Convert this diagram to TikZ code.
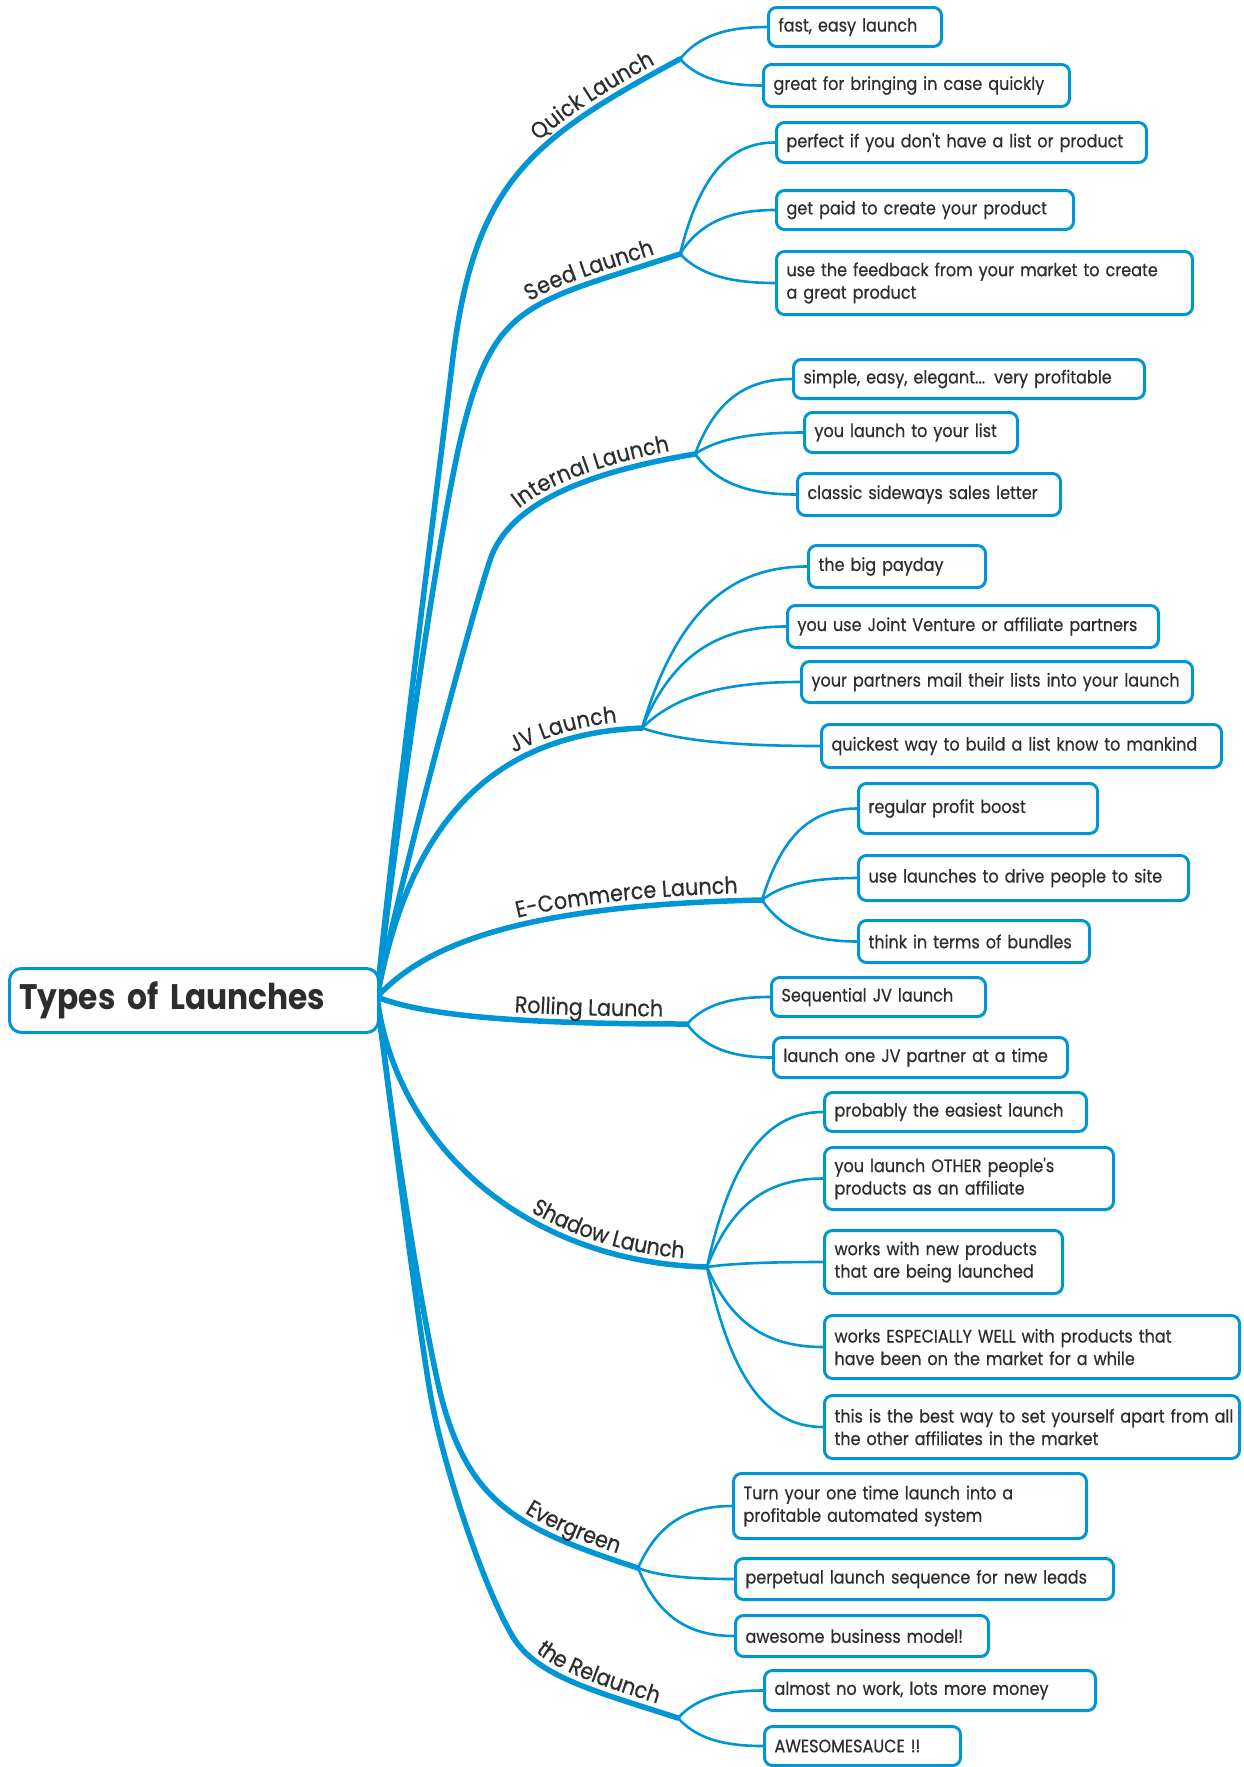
\documentclass[tikz,border=0pt]{standalone}
\usepackage{fontspec}
\setmainfont{Poppins}
\newfontfamily\leaffont{Poppins}[FakeStretch=0.89, FakeBold=0.5]
\newfontfamily\labelfont{Poppins}[FakeStretch=0.9, FakeBold=0.5]
\newfontfamily\rootfont{Poppins}[FakeStretch=0.88]
\usetikzlibrary{calc,backgrounds,decorations.text}
\definecolor{mmblue}{RGB}{0,150,214}
\definecolor{mmtext}{RGB}{45,45,45}
\begin{document}
\begin{tikzpicture}[x=1pt,y=-1pt,
  trunk/.style={draw=mmblue, line width=5.5pt, line cap=round, line join=round},
  lbl/.style={postaction={decorate, decoration={text along path,
      text={|\labelfont\fontsize{23}{27}\selectfont\color{mmtext}|#1},
      text align={align=right, right indent=24pt}, raise=7.5pt}}},
  twig/.style={draw=mmblue, line width=2.6pt, line cap=round},
  twigto/.style={to path={.. controls ($(\tikztostart)!0.6!(\tikztostart|-\tikztotarget)!0.2!(\tikztotarget)$) and ($(\tikztotarget)!0.5!(\tikztostart|-\tikztotarget)$) .. (\tikztotarget)}},
  leaf/.style={draw=mmblue, line width=3pt, rounded corners=8pt, fill=white, anchor=north west, inner xsep=10pt, inner ysep=0pt, align=left, font=\leaffont\fontsize{18}{22.5}\selectfont, text=mmtext},
  rootbox/.style={draw=mmblue, line width=3pt, rounded corners=12pt, fill=white, anchor=north west, inner xsep=10pt, inner ysep=0pt, align=left, font=\rootfont\bfseries\fontsize{35.5}{40}\selectfont, text=mmtext},
]
\useasboundingbox (0,0) rectangle (1244,1767);

% central topic
\node[rootbox, text width=349pt, minimum height=64pt] (center) at (8,967) {Types of Launches};
\coordinate (root) at (377,997);

% forks
\coordinate (fQ) at (680,59);
\coordinate (fS) at (680,254);
\coordinate (fI) at (695,454);
\coordinate (fJ) at (642,728);
\coordinate (fE) at (762,900);
\coordinate (fR) at (687,1024);
\coordinate (fSh) at (707,1267);
\coordinate (fEv) at (638,1568);
\coordinate (fRe) at (678,1718);

% leaves
\node[leaf, text width=153pt, minimum height=39pt] (c11) at (767,6) {fast, easy launch};
\node[leaf, text width=286pt, minimum height=42pt] (c12) at (762,63) {great for bringing in case quickly};
\node[leaf, text width=350pt, minimum height=40pt] (c21) at (775,121) {\mbox{perfect if you don't have a list or product}};
\node[leaf, text width=277pt, minimum height=39pt] (c22) at (775,189) {get paid to create your product};
\node[leaf, text width=396pt, minimum height=63pt] (c23) at (775,250) {\mbox{use the feedback from your market to create}\\a great product};
\node[leaf, text width=331pt, minimum height=39pt] (c31) at (792,358) {\mbox{simple, easy, elegant... very profitable}};
\node[leaf, text width=193pt, minimum height=40pt] (c32) at (803,411) {\mbox{you launch to your list}};
\node[leaf, text width=243pt, minimum height=42pt] (c33) at (796,472) {\mbox{classic sideways sales letter}};
\node[leaf, text width=157pt, minimum height=42pt] (c41) at (807,544) {the big payday};
\node[leaf, text width=351pt, minimum height=42pt] (c42) at (786,604) {\mbox{you use Joint Venture or affiliate partners}};
\node[leaf, text width=371pt, minimum height=41pt] (c43) at (800,660) {\mbox{your partners mail their lists into your launch}};
\node[leaf, text width=380pt, minimum height=43pt] (c44) at (820,723) {\mbox{quickest way to build a list know to mankind}};
\node[leaf, text width=219pt, minimum height=50pt] (c51) at (857,782) {regular profit boost};
\node[leaf, text width=310pt, minimum height=45pt] (c52) at (857,854) {\mbox{use launches to drive people to site}};
\node[leaf, text width=211pt, minimum height=42pt] (c53) at (857,919) {\mbox{think in terms of bundles}};
\node[leaf, text width=194pt, minimum height=39pt] (c61) at (770,976) {\mbox{Sequential JV launch}};
\node[leaf, text width=274pt, minimum height=40pt] (c62) at (772,1036) {\mbox{launch one JV partner at a time}};
\node[leaf, text width=242pt, minimum height=39pt] (c71) at (823,1091) {\mbox{probably the easiest launch}};
\node[leaf, text width=269pt, minimum height=62pt] (c72) at (823,1146) {\mbox{you launch OTHER people's}\\products as an affiliate};
\node[leaf, text width=218pt, minimum height=63pt] (c73) at (823,1229) {\mbox{works with new products}\\\mbox{that are being launched}};
\node[leaf, text width=395pt, minimum height=63pt] (c74) at (823,1314) {\mbox{works ESPECIALLY WELL with products that}\\\mbox{have been on the market for a while}};
\node[leaf, text width=395pt, minimum height=63pt] (c75) at (823,1394) {\mbox{this is the best way to set yourself apart from all}\\\mbox{the other affiliates in the market}};
\node[leaf, text width=333pt, minimum height=65pt] (c81) at (732,1472) {\mbox{Turn your one time launch into a}\\profitable automated system};
\node[leaf, text width=358pt, minimum height=41pt] (c82) at (734,1557) {\mbox{perpetual launch sequence for new leads}};
\node[leaf, text width=233pt, minimum height=41pt] (c83) at (734,1614) {\mbox{awesome business model!}};
\node[leaf, text width=311pt, minimum height=40pt] (c91) at (763,1669) {\mbox{almost no work, lots more money}};
\node[leaf, text width=176pt, minimum height=39pt] (c92) at (763,1725) {AWESOMESAUCE !!};

\begin{scope}[on background layer]
% twigs
\draw[twig] (fQ) to[twigto] (c11.west);
\draw[twig] (fQ) to[twigto] (c12.west);
\draw[twig] (fS) to[twigto] (c21.west);
\draw[twig] (fS) to[twigto] (c22.west);
\draw[twig] (fS) to[twigto] (c23.west);
\draw[twig] (fI) to[twigto] (c31.west);
\draw[twig] (fI) to[twigto] (c32.west);
\draw[twig] (fI) to[twigto] (c33.west);
\draw[twig] (fJ) to[twigto] (c41.west);
\draw[twig] (fJ) to[twigto] (c42.west);
\draw[twig] (fJ) to[twigto] (c43.west);
\draw[twig] (fJ) to[twigto] (c44.west);
\draw[twig] (fE) to[twigto] (c51.west);
\draw[twig] (fE) to[twigto] (c52.west);
\draw[twig] (fE) to[twigto] (c53.west);
\draw[twig] (fR) to[twigto] (c61.west);
\draw[twig] (fR) to[twigto] (c62.west);
\draw[twig] (fSh) to[twigto] (c71.west);
\draw[twig] (fSh) to[twigto] (c72.west);
\draw[twig] (fSh) to[twigto] (c73.west);
\draw[twig] (fSh) to[twigto] (c74.west);
\draw[twig] (fSh) to[twigto] (c75.west);
\draw[twig] (fEv) to[twigto] (c81.west);
\draw[twig] (fEv) to[twigto] (c82.west);
\draw[twig] (fEv) to[twigto] (c83.west);
\draw[twig] (fRe) to[twigto] (c91.west);
\draw[twig] (fRe) to[twigto] (c92.west);
% trunks with their labels along them
\draw[trunk, lbl={Quick Launch}] (root) .. controls (392,840) and (437,490) .. (453,357) .. controls (475,182) and (530,140) .. (fQ);
\draw[trunk, lbl={Seed Launch}] (root) .. controls (395,840) and (438,529) .. (463,429) .. controls (495,301) and (530,303) .. (fS);
\draw[trunk, lbl={Internal Launch}] (root) .. controls (395,900) and (470,620) .. (490,560) .. controls (510,500) and (595,471) .. (fI);
\draw[trunk, lbl={JV Launch}] (root) .. controls (405,850) and (470,735) .. (fJ);
\draw[trunk, lbl={E-Commerce Launch}] (root) .. controls (425,945) and (520,905) .. (fE);
\draw[trunk, lbl={Rolling Launch}] (root) .. controls (430,1018) and (540,1024) .. (fR);
\draw[trunk, lbl={Shadow Launch}] (root) .. controls (395,1140) and (520,1262) .. (fSh);
\draw[trunk, lbl={Evergreen}] (root) .. controls (395,1150) and (425,1330) .. (440,1392) .. controls (468,1504) and (518,1529) .. (fEv);
\draw[trunk, lbl={the Relaunch}] (root) .. controls (390,1100) and (415,1302) .. (430,1392) .. controls (442,1462) and (483,1587) .. (513,1637) .. controls (537,1677) and (598,1692) .. (fRe);
\end{scope}
\end{tikzpicture}
\end{document}
